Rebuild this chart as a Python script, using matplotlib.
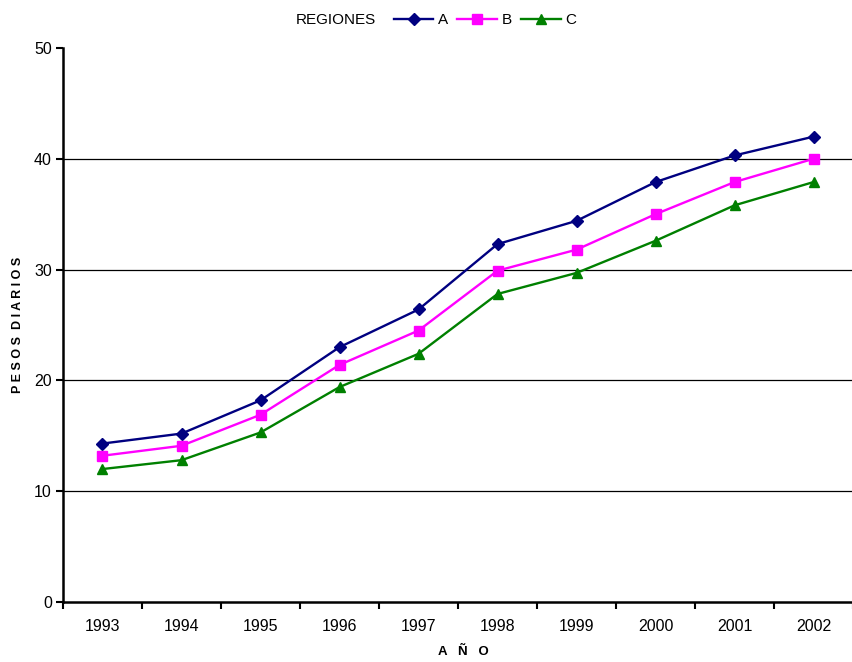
import matplotlib
matplotlib.use("Agg")
import matplotlib.pyplot as plt
from matplotlib.ticker import FixedLocator, NullFormatter

plt.rcParams['font.family'] = ['Liberation Sans', 'DejaVu Sans']

years = ['1993', '1994', '1995', '1996', '1997', '1998', '1999', '2000', '2001', '2002']
serie_a = [14.3, 15.2, 18.2, 23.0, 26.4, 32.3, 34.4, 37.9, 40.3, 42.0]
serie_b = [13.2, 14.1, 16.9, 21.4, 24.5, 29.9, 31.8, 35.0, 37.9, 40.0]
serie_c = [12.0, 12.8, 15.3, 19.4, 22.4, 27.8, 29.7, 32.6, 35.8, 37.9]
y_ticks = [0, 10, 20, 30, 40, 50]

fig = plt.figure(figsize=(8.53, 6.62), dpi=100)
ax = fig.add_axes([63/853, 1-602/662, 1-63/853, (602-48)/662])

x = list(range(len(years)))
for yv in y_ticks[1:-1]:
    ax.axhline(yv, color='black', lw=0.9, zorder=1)

ax.plot(x, serie_a, color='#000080', marker='D', markersize=6.5, lw=1.7, label='A', zorder=3)
ax.plot(x, serie_b, color='#FF00FF', marker='s', markersize=7.5, lw=1.7, label='B', zorder=3)
ax.plot(x, serie_c, color='#008000', marker='^', markersize=7.5, lw=1.7, label='C', zorder=3)

ax.set_xlim(-0.5, 9.4)
ax.set_ylim(0, 50)
ax.set_yticks(y_ticks)
ax.set_xticks([i + 0.5 for i in range(-1, len(years))])
ax.xaxis.set_major_formatter(NullFormatter())
ax.xaxis.set_minor_locator(FixedLocator(x))
ax.set_xticklabels(years, minor=True)
ax.tick_params(axis='x', which='minor', length=0, pad=12, labelsize=11.5)
ax.tick_params(axis='x', which='major', direction='out', length=5, width=1.5)
ax.tick_params(axis='y', direction='out', length=5, width=1.5, labelsize=11.5, pad=3)

for s in ['top', 'right']:
    ax.spines[s].set_visible(False)
ax.spines['left'].set_linewidth(1.8)
ax.spines['bottom'].set_linewidth(1.8)

fig.text(18/853, 1-325/662, 'P E S O S  D I A R I O S', fontsize=9, fontweight='bold',
         rotation=90, ha='center', va='center')
fig.text(463/853, 1-652/662, 'A   Ñ   O', fontsize=9.5, fontweight='bold', ha='center', va='center')

fig.text(336/853, 1-20/662, 'REGIONES', fontsize=11, ha='center', va='center')
fig.legend(loc='center', bbox_to_anchor=(485/853, 1-20/662), ncol=3, frameon=False,
           fontsize=11, handlelength=2.6, columnspacing=0.6, handletextpad=0.3,
           borderpad=0)

fig.savefig('out.png', dpi=100)
